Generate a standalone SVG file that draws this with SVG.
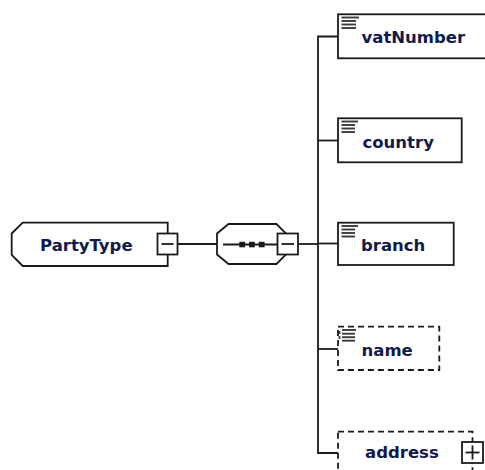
<svg xmlns="http://www.w3.org/2000/svg" width="485" height="470" viewBox="0 0 485 470">
<style>
.ln{fill:none;stroke:#1a1a1a;stroke-width:1.8}
.bx{fill:#fff;stroke:#1a1a1a;stroke-width:1.8}
.dash{fill:#fff;stroke:#1a1a1a;stroke-width:1.8;stroke-dasharray:6,4}
.ic{stroke:#3a3a3a;stroke-width:1.9}
.t{font-family:"DejaVu Sans",Verdana,sans-serif;font-weight:bold;font-size:16.5px;fill:#111a4a}
</style>
<rect width="485" height="470" fill="#fff"/>
<g id="connectors">
<line class="ln" x1="177.5" y1="244" x2="217" y2="244"/>
<line class="ln" x1="298" y1="244" x2="318" y2="244"/>
<path class="ln" d="M338,36.5 H318 V453 H338"/>
<line class="ln" x1="318" y1="140.5" x2="338" y2="140.5"/>
<line class="ln" x1="318" y1="243.5" x2="338" y2="243.5"/>
<line class="ln" x1="318" y1="349" x2="338" y2="349"/>
</g>
<g id="PartyType">
<polygon class="bx" points="22.7,222.7 167.7,222.7 167.7,266 22.7,266 11.7,255 11.7,233.5"/>
<text class="t" x="40" y="250.5">PartyType</text>
<rect class="bx" x="157.5" y="233.5" width="20" height="21"/>
<line class="ln" x1="161.5" y1="244" x2="173.5" y2="244"/>
</g>
<g id="sequence">
<polygon class="bx" points="217,233.5 228.5,224 276.5,224 286,233.5 286,254.5 276.5,264 228.5,264 217,254.5"/>
<line class="ln" x1="223" y1="244.5" x2="278" y2="244.5"/>
<rect x="239.3" y="241.8" width="5.8" height="5.5" fill="#1a1a1a"/>
<rect x="249" y="241.8" width="5.8" height="5.5" fill="#1a1a1a"/>
<rect x="258.8" y="241.8" width="5.8" height="5.5" fill="#1a1a1a"/>
<rect class="bx" x="277.5" y="233.5" width="20.5" height="21"/>
<line class="ln" x1="281.5" y1="244" x2="294" y2="244"/>
</g>
<g id="vatNumber">
<rect class="bx" x="338" y="14.3" width="160" height="44"/>
<g class="ic"><line x1="341.5" y1="17.5" x2="359" y2="17.5"/><line x1="341.5" y1="21" x2="356" y2="21"/><line x1="341.5" y1="24.5" x2="356" y2="24.5"/><line x1="341.5" y1="28" x2="356" y2="28"/></g>
<text class="t" x="361.5" y="43">vatNumber</text>
</g>
<g id="country">
<rect class="bx" x="338" y="118.3" width="123.7" height="44"/>
<g class="ic"><line x1="341.5" y1="121.5" x2="358" y2="121.5"/><line x1="341.5" y1="125" x2="355" y2="125"/><line x1="341.5" y1="128.5" x2="355" y2="128.5"/><line x1="341.5" y1="132" x2="355" y2="132"/></g>
<text class="t" x="362.5" y="148">country</text>
</g>
<g id="branch">
<rect class="bx" x="338" y="222.7" width="115.7" height="42.3"/>
<g class="ic"><line x1="341.5" y1="226" x2="358" y2="226"/><line x1="341.5" y1="229.5" x2="355" y2="229.5"/><line x1="341.5" y1="233" x2="355" y2="233"/><line x1="341.5" y1="236.5" x2="355" y2="236.5"/></g>
<text class="t" x="361" y="251">branch</text>
</g>
<g id="name">
<rect class="dash" x="338" y="326.7" width="101.3" height="43.3"/>
<g class="ic"><line x1="342" y1="330" x2="356" y2="330"/><line x1="342" y1="333.7" x2="355" y2="333.7"/><line x1="342" y1="337.2" x2="355" y2="337.2"/><line x1="342" y1="340.7" x2="355" y2="340.7"/></g>
<line class="ic" x1="339.5" y1="331" x2="339.5" y2="341" stroke-dasharray="3,2"/>
<text class="t" x="361.5" y="355.5">name</text>
</g>
<g id="address">
<rect class="dash" x="338" y="431.7" width="134.5" height="44"/>
<text class="t" x="365" y="458">address</text>
<rect class="bx" x="462" y="442" width="21" height="21"/>
<line class="ln" x1="465.5" y1="452.5" x2="479.5" y2="452.5"/>
<line class="ln" x1="472.5" y1="445.5" x2="472.5" y2="459.5"/>
</g>
</svg>
